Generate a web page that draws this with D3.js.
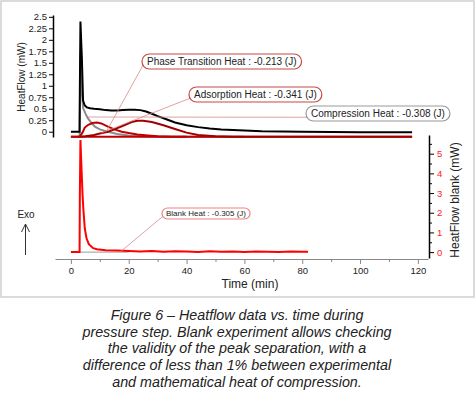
<!DOCTYPE html>
<html>
<head>
<meta charset="utf-8">
<script src="https://cdn.jsdelivr.net/npm/d3@7"></script>
<style>
  body { margin: 0; background: #fff; }
  svg text { font-family: Arial, "Liberation Sans", sans-serif; }
</style>
</head>
<body>
<div id="chart"></div>
<script>
// experimental heatflow (black), left axis
const expTime = [0, 3.0, 3.1, 3.3, 3.6, 3.8, 4.2, 4.8, 5.5, 6.6, 8, 10, 12, 14, 16, 18, 20, 22, 24, 26, 28, 30, 33, 36, 40, 44, 48, 52, 58, 66, 80, 100, 118];
const expFlow = [0, 0, 1.0, 2.4, 1.9, 1.6, 0.68, 0.57, 0.53, 0.51, 0.5, 0.49, 0.47, 0.46, 0.46, 0.47, 0.48, 0.48, 0.47, 0.44, 0.39, 0.34, 0.27, 0.2, 0.14, 0.1, 0.07, 0.05, 0.03, 0.01, 0, -0.01, -0.01];

// compression peak (grey)
const compTime = [3.0, 3.3, 3.6, 4.2, 5, 5.8, 7, 8.3, 10, 12.8, 16, 20, 25, 30, 60];
const compFlow = [-0.11, 1.7, 1.0, 0.52, 0.4, 0.3, 0.2, 0.11, 0.05, 0.0, -0.05, -0.08, -0.1, -0.11, -0.11];

// phase transition peak (dark red)
const phaseTime = [0, 3.0, 4, 4.8, 6, 7.5, 9, 10.5, 12.8, 15, 17.6, 20, 23, 26.6, 30, 35, 40];
const phaseFlow = [-0.11, -0.11, -0.02, 0.09, 0.15, 0.19, 0.2, 0.18, 0.11, 0.05, 0.0, -0.03, -0.06, -0.08, -0.1, -0.11, -0.11];

// adsorption peak (dark red)
const adsTime = [3, 5, 8, 10, 12.8, 15, 18, 21, 23, 25, 28, 32, 36, 40, 44, 50, 56, 118];
const adsFlow = [-0.11, -0.1, -0.07, -0.04, 0.0, 0.05, 0.13, 0.21, 0.24, 0.24, 0.21, 0.14, 0.06, -0.02, -0.07, -0.1, -0.11, -0.11];

// blank experiment (red), right axis
const blankTime = [0, 3.0, 3.1, 3.3, 3.6, 4.0, 4.3, 4.8, 5.4, 6.2, 7.7, 9, 12, 16, 20, 24, 28, 32, 36, 40, 44, 48, 52, 56, 60, 64, 68, 72, 76, 80, 82];
const blankFlow = [0, 0, 3.0, 5.7, 4.5, 3.0, 2.2, 1.2, 0.7, 0.4, 0.2, 0.15, 0.1, 0.08, 0.06, 0.03, 0.05, 0.02, 0.04, 0.03, 0.01, 0.04, 0.02, 0.03, 0.01, 0.03, 0.02, 0.01, 0.03, 0.02, 0.02];

const leftTicks = [0, 0.25, 0.5, 0.75, 1, 1.25, 1.5, 1.75, 2, 2.25, 2.5];
const rightTicks = [0, 1, 2, 3, 4, 5];
const timeTicks = [0, 20, 40, 60, 80, 100, 120];

const notes = [
  { label: "Phase Transition Heat :  -0.213 (J)", t: 12.5, v: 0.03, bx: 142, by: 54, stroke: "#c84848" },
  { label: "Adsorption Heat :  -0.341 (J)", t: 10.4, v: -0.03, bx: 189, by: 87, stroke: "#c84848" },
  { label: "Compression Heat :  -0.308 (J)", t: 5.9, v: 0.32, bx: 306, by: 106, stroke: "#999" }
];
const blankNote = { label: "Blank Heat :  -0.305 (J)", t: 17, v: 0, bx: 162, by: 208, stroke: "#f08080" };

const caption = [
  "Figure 6 \u2013 Heatflow data vs. time during",
  "pressure step. Blank experiment allows checking",
  "the validity of the peak separation, with a",
  "difference of less than 1% between experimental",
  "and mathematical heat of compression."
];

const W = 475, H = 395;
const svg = d3.select("#chart").append("svg")
    .attr("width", W).attr("height", H);

// frame around the chart
svg.append("path")
    .attr("d", "M1,1 H474 V297 H1 Z")
    .attr("fill", "none").attr("stroke", "#cfcfcf").attr("stroke-width", 1.5);

const x = d3.scaleLinear().domain([-5.5, 123.5]).range([55, 428]);
const yL = d3.scaleLinear().domain([-0.115, 2.54]).range([137, 15]);
const yR = d3.scaleLinear().domain([-0.3, 5.95]).range([258, 135]);

const lineL = (t, v) => d3.line().x((d, i) => x(t[i])).y((d, i) => yL(v[i]))(v);
const lineR = (t, v) => d3.line().x((d, i) => x(t[i])).y((d, i) => yR(v[i]))(v);

// x axis
const xAxis = svg.append("g")
    .attr("transform", "translate(0,259)")
    .call(d3.axisBottom(x).tickValues(timeTicks).tickSize(5).tickSizeOuter(0).tickPadding(3));
xAxis.select(".domain").attr("stroke", "#888");
xAxis.selectAll(".tick line").attr("stroke", "#888");
xAxis.selectAll("text").attr("font-size", 9.5).attr("fill", "#222");
svg.append("g")
    .attr("transform", "translate(0,259)")
    .call(d3.axisBottom(x).tickValues([10, 30, 50, 70, 90, 110]).tickSize(3).tickFormat(""))
    .call(g => g.select(".domain").remove())
    .selectAll("line").attr("stroke", "#888");

svg.append("text").attr("x", 250).attr("y", 288).attr("text-anchor", "middle")
    .attr("font-size", 12).attr("fill", "#222").text("Time (min)");

// left axis
const leftAxis = svg.append("g")
    .attr("transform", "translate(53,0)")
    .call(d3.axisLeft(yL).tickValues(leftTicks).tickSize(4).tickSizeOuter(0).tickPadding(2)
      .tickFormat(d => d3.format("")(d)));
leftAxis.select(".domain").attr("stroke-width", 1.5);
leftAxis.selectAll("text").attr("font-size", 9.5).attr("fill", "#222");

svg.append("text")
    .attr("transform", "translate(25,77) rotate(-90)")
    .attr("text-anchor", "middle").attr("font-size", 10).attr("fill", "#222")
    .text("HeatFlow (mW)");

// right axis (blank)
const rightAxis = svg.append("g")
    .attr("transform", "translate(429,0)")
    .call(d3.axisRight(yR).tickValues(rightTicks).tickFormat(d3.format("d"))
      .tickSize(5).tickSizeOuter(0).tickPadding(3));
rightAxis.select(".domain").attr("stroke-width", 1.5);
rightAxis.selectAll("text").attr("font-size", 9.5).attr("fill", "#ff2020");
svg.append("g")
    .attr("transform", "translate(429,0)")
    .call(d3.axisRight(yR).tickValues([0.5, 1.5, 2.5, 3.5, 4.5, 5.5]).tickSize(3).tickFormat(""))
    .call(g => g.select(".domain").remove());

svg.append("text")
    .attr("transform", "translate(459,200) rotate(-90)")
    .attr("text-anchor", "middle").attr("font-size", 12).attr("fill", "#222")
    .text("HeatFlow blank (mW)");

// blank curve
svg.append("line")
    .attr("x1", x(3)).attr("x2", x(20)).attr("y1", yR(0)).attr("y2", yR(0))
    .attr("stroke", "#999").attr("stroke-width", 1);
svg.append("path").attr("d", lineR(blankTime, blankFlow))
    .attr("fill", "none").attr("stroke", "#ff0000").attr("stroke-width", 2);

// top curves
svg.append("path").attr("d", lineL(compTime, compFlow))
    .attr("fill", "none").attr("stroke", "#8c8c8c").attr("stroke-width", 2);
svg.append("path").attr("d", lineL([0, 118], [-0.11, -0.11]))
    .attr("fill", "none").attr("stroke", "#c00000").attr("stroke-width", 2);
svg.append("path").attr("d", lineL(phaseTime, phaseFlow))
    .attr("fill", "none").attr("stroke", "#c00000").attr("stroke-width", 2);
svg.append("path").attr("d", lineL(adsTime, adsFlow))
    .attr("fill", "none").attr("stroke", "#a00000").attr("stroke-width", 2);
svg.append("path").attr("d", lineL(expTime, expFlow))
    .attr("fill", "none").attr("stroke", "#000").attr("stroke-width", 2);

// callouts
function callout(n, yScale, fs, h, pad) {
  const g = svg.append("g");
  const txt = g.append("text").attr("x", n.bx + pad).attr("y", n.by + h / 2 + fs * 0.36)
      .attr("font-size", fs).attr("fill", "#222").text(n.label);
  const w = txt.node().getComputedTextLength() + pad * 2;
  g.insert("line", "text")
      .attr("x1", n.bx + 1).attr("y1", n.by + h * 0.75)
      .attr("x2", x(n.t)).attr("y2", yScale(n.v))
      .attr("stroke", "#d88a8a").attr("stroke-width", 0.8);
  g.insert("rect", "text")
      .attr("x", n.bx).attr("y", n.by).attr("width", w).attr("height", h)
      .attr("rx", h / 2).attr("fill", "#fff").attr("stroke", n.stroke).attr("stroke-width", 1.2);
}
notes.forEach(n => callout(n, yL, 10, 15, 5));
callout(blankNote, yR, 8, 11, 4);

// Exo arrow
svg.append("text").attr("x", 26).attr("y", 218).attr("text-anchor", "middle")
    .attr("font-size", 10).attr("fill", "#222").text("Exo");
svg.append("path")
    .attr("d", "M25.5,255 V224 M21.5,232 L25.5,224 L29.5,232")
    .attr("fill", "none").attr("stroke", "#333").attr("stroke-width", 1);

// caption
svg.append("g").selectAll("text").data(caption).enter().append("text")
    .attr("x", 237).attr("y", (d, i) => 320 + i * 16.7)
    .attr("text-anchor", "middle").attr("font-size", 14.3).attr("font-style", "italic")
    .attr("fill", "#222").text(d => d);
</script>
</body>
</html>
